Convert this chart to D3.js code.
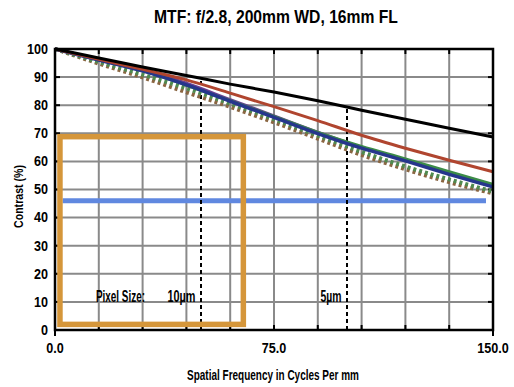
<!DOCTYPE html>
<html><head><meta charset="utf-8">
<script src="https://cdn.jsdelivr.net/npm/d3@7"></script>
<style>body{margin:0;background:#fff}svg{display:block}text{font-family:"Liberation Sans",Arial,sans-serif}</style>
</head><body><svg id="c" width="514" height="387"></svg>
<script>
const freqs = [0,15,30,45,60,75,90,105,120,135,150];
const diffraction = [100,96.8,93.6,90.6,87.5,84.7,81.6,78.2,75.0,71.8,68.7];
const redSolid    = [100,96.3,92.8,89.0,84.3,79.5,74.5,69.3,64.7,60.4,56.3];
const purpleSolid = [100,96.3,92.6,87.8,82.0,76.2,70.4,65.0,60.4,55.7,51.2];
const greenSolid  = [100,96.2,92.3,87.1,81.6,76.0,70.3,65.3,60.9,56.3,51.8];
const blueSolid   = [100,96.1,92.2,87.2,81.4,75.7,69.9,64.7,60.2,55.4,50.9];
const greenDotted = [100,95.4,90.9,86.0,80.6,75.0,69.2,63.4,58.2,53.6,49.3];
const brownDotted = [100,94.8,89.9,84.6,79.4,73.9,68.1,62.3,57.2,52.6,48.6];
const yTicks = [0,10,20,30,40,50,60,70,80,90,100];
const xGrid = [0,15,30,45,60,75,90,105,120,135,150];
const xLabels = [0,75,150];
const pixelFreqs = [50,100];
const pixelLabels = ["10µm","5µm"];
const boxX = [1.7,64.5], boxY = [2.0,68.8];
const hLineY = 46.0, hLineX = [2.6,147.6];

const svg = d3.select("#c");
const L=55,R=493,T=49,B=330;
const x = d3.scaleLinear().domain([0,150]).range([L,R]);
const y = d3.scaleLinear().domain([0,100]).range([B,T]);

function ctext(g, tx, ty, str, size, weight, anchor, sx){
  return g.append("text").attr("transform",`translate(${tx},${ty}) scale(${sx},1)`)
    .attr("font-size",size).attr("font-weight",weight).attr("text-anchor",anchor).text(str);
}
// fit text to a target width by horizontal scaling (real geometry)
function ftext(g, tx, ty, str, size, weight, anchor, width, rot){
  const t = g.append("text").attr("font-size",size).attr("font-weight",weight)
    .attr("text-anchor",anchor).text(str);
  const len = t.node().getComputedTextLength();
  const sx = width/len;
  t.attr("transform",`translate(${tx},${ty})${rot?` rotate(${rot})`:""} scale(${sx},1)`);
  return t;
}

// grid
svg.append("g").selectAll("line").data(xGrid.slice(1,-1)).join("line")
  .attr("x1",d=>x(d)).attr("x2",d=>x(d)).attr("y1",T).attr("y2",B)
  .attr("stroke","#8a8a8a").attr("stroke-width",2);
svg.append("g").selectAll("line").data(yTicks.slice(1,-1)).join("line")
  .attr("y1",d=>y(d)).attr("y2",d=>y(d)).attr("x1",L).attr("x2",R)
  .attr("stroke","#8a8a8a").attr("stroke-width",2);

// inward ticks
const tk=svg.append("g").attr("stroke","#000").attr("stroke-width",2);
xGrid.slice(1,-1).forEach(d=>{
  tk.append("line").attr("x1",x(d)).attr("x2",x(d)).attr("y1",T).attr("y2",T+5);
  tk.append("line").attr("x1",x(d)).attr("x2",x(d)).attr("y1",B).attr("y2",B-5);
});
yTicks.slice(1,-1).forEach(d=>{
  tk.append("line").attr("y1",y(d)).attr("y2",y(d)).attr("x1",L).attr("x2",L+5);
  tk.append("line").attr("y1",y(d)).attr("y2",y(d)).attr("x1",R).attr("x2",R-5);
});
tk.append("line").attr("x1",L).attr("x2",L).attr("y1",B).attr("y2",B+6);
tk.append("line").attr("x1",R).attr("x2",R).attr("y1",B).attr("y2",B+6);

// blue highlight line
svg.append("line").attr("x1",x(hLineX[0])).attr("x2",x(hLineX[1]))
  .attr("y1",y(hLineY)).attr("y2",y(hLineY)).attr("stroke","#6088e0").attr("stroke-width",5);

// dashed pixel lines (up to the diffraction curve)
const line = d3.line().x(d=>x(d[0])).y(d=>y(d[1])).curve(d3.curveMonotoneX);
const interp = (arr,f)=>{for(let i=0;i<freqs.length-1;i++){if(f>=freqs[i]&&f<=freqs[i+1]){const t=(f-freqs[i])/(freqs[i+1]-freqs[i]);return arr[i]+t*(arr[i+1]-arr[i]);}}return arr[arr.length-1];};
svg.append("g").selectAll("line").data(pixelFreqs).join("line")
  .attr("x1",d=>x(d)).attr("x2",d=>x(d)).attr("y1",B).attr("y2",d=>y(interp(diffraction,d)))
  .attr("stroke","#000").attr("stroke-width",2).attr("stroke-dasharray","4,3");

// curves
const series = [
  {v:brownDotted,c:"#8a6642",w:4,dash:"3,3"},
  {v:greenDotted,c:"#4f8a4f",w:4,dash:"3,3"},
  {v:purpleSolid,c:"#6b3f93",w:3},
  {v:greenSolid,c:"#3c8c48",w:3},
  {v:blueSolid,c:"#26368c",w:3.5},
  {v:redSolid,c:"#b0452f",w:3},
  {v:diffraction,c:"#000",w:3}
];
series.forEach(s=>{
  svg.append("path").datum(freqs.map((f,i)=>[f,s.v[i]])).attr("d",line)
    .attr("fill","none").attr("stroke",s.c).attr("stroke-width",s.w)
    .attr("stroke-dasharray",s.dash||null);
});

// orange box
svg.append("rect").attr("x",x(boxX[0])).attr("y",y(boxY[1]))
  .attr("width",x(boxX[1])-x(boxX[0])).attr("height",y(boxY[0])-y(boxY[1]))
  .attr("fill","none").attr("stroke","#d5963a").attr("stroke-width",5.5);

// frame
svg.append("rect").attr("x",L).attr("y",T).attr("width",R-L).attr("height",B-T)
  .attr("fill","none").attr("stroke","#000").attr("stroke-width",2.5);

// tick labels
const tl = svg.append("g");
yTicks.forEach(d=>ctext(tl,48,y(d)+4.8,String(d),14,"bold","end",0.9));
xLabels.forEach(d=>ctext(tl,x(d),353,d.toFixed(1),14,"bold","middle",0.9));

// titles
ftext(svg,276,23,"MTF: f/2.8, 200mm WD, 16mm FL",18,"bold","middle",244);
ftext(svg,273,380,"Spatial Frequency in Cycles Per mm",15,"bold","middle",172);
ftext(svg,22.5,196.5,"Contrast (%)",13,"bold","middle",63,-90);

// pixel labels
ftext(svg,96,301.7,"Pixel Size:",16,"bold","start",49);
pixelFreqs.forEach((d,i)=>ftext(svg,x(d)-5.5,301.7,pixelLabels[i],16,"bold","end",i===0?28:21));
</script></body></html>
